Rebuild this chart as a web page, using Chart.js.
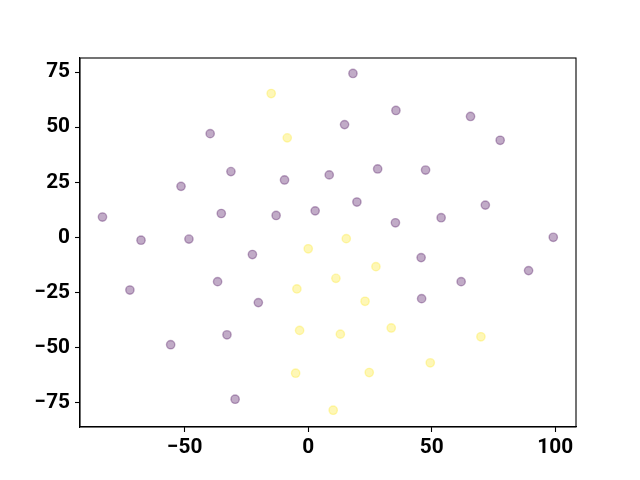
<!DOCTYPE html>
<html>
<head>
<meta charset="utf-8">
<script src="https://cdn.jsdelivr.net/npm/chart.js@4.4.0/dist/chart.umd.min.js"></script>
<style>
  body { margin: 0; background: #fff; }
  canvas { display: block; }
</style>
</head>
<body>
<canvas id="chart1" width="640" height="480"></canvas>
<script>
// ============== Data
const purpleX = [-83.3, -72.2, -67.7, -55.7, -51.5, -48.3, -39.7, -36.7, -35.2, -32.9,
  -31.3, -29.6, -22.6, -20.2, -13.0, -9.6, 2.8, 8.5, 14.7, 18.1,
  19.7, 28.1, 35.5, 35.3, 45.7, 45.9, 47.5, 53.8, 61.9, 65.7,
  71.7, 77.7, 89.2, 99.2];
const purpleY = [9.3, -23.8, -1.2, -48.6, 23.2, -0.7, 47.1, -20.0, 10.9, -44.1,
  29.9, -73.3, -7.7, -29.5, 10.0, 26.1, 12.1, 28.4, 51.2, 74.4,
  16.1, 31.1, 57.6, 6.7, -9.1, -27.7, 30.6, 9.0, -20.0, 54.9,
  14.7, 44.1, -15.0, 0.1];

const yellowX = [-15.0, -8.5, 0.0, 15.4, 11.2, 27.4, 23.0, -4.6, -3.5, 13.0,
  33.6, -5.1, 24.7, 49.4, 69.9, 10.1];
const yellowY = [65.3, 45.2, -5.1, -0.5, -18.5, -13.2, -28.9, -23.3, -42.1, -43.8,
  -41.0, -61.5, -61.2, -56.8, -45.0, -78.3];

const xTicks = [-50, 0, 50, 100];
const yTicks = [-75, -50, -25, 0, 25, 50, 75];

const toPoints = (xs, ys) => xs.map((x, i) => ({ x: x, y: ys[i] }));

// ============== Chart
const frame = {
  id: 'frame',
  afterDraw(chart) {
    const { ctx, chartArea } = chart;
    ctx.save();
    ctx.strokeStyle = '#000';
    ctx.lineWidth = 1.1;
    ctx.strokeRect(chartArea.left, chartArea.top,
      chartArea.right - chartArea.left, chartArea.bottom - chartArea.top);
    ctx.restore();
  }
};

const tickFont = { family: 'Roboto', size: 20.8, weight: 'bold' };
const minus = (v) => String(v).replace('-', '\u2212');

const createChart1 = () => {
  const ctx = document.getElementById('chart1').getContext('2d');

  const data = {
    datasets: [{
      data: toPoints(purpleX, purpleY),
      backgroundColor: 'rgba(68, 1, 84, 0.33)',
      borderColor: 'rgba(68, 1, 84, 0.33)',
    }, {
      data: toPoints(yellowX, yellowY),
      backgroundColor: 'rgba(253, 231, 37, 0.33)',
      borderColor: 'rgba(253, 231, 37, 0.33)',
    }]
  };

  const config = {
    type: 'scatter',
    data: data,
    options: {
      responsive: false,
      animation: false,
      elements: {
        point: { radius: 4.17, borderWidth: 1.4, hoverRadius: 4.17 }
      },
      layout: {
        padding: { left: 0, right: 64, top: 58, bottom: 0 }
      },
      plugins: {
        legend: { display: false },
        tooltip: { enabled: false }
      },
      scales: {
        x: {
          min: -92.4,
          max: 108.4,
          afterBuildTicks: (scale) => { scale.ticks = xTicks.map(v => ({ value: v })); },
          afterFit: (scale) => { scale.height = 53; },
          grid: { drawOnChartArea: false, drawTicks: true, tickLength: 5, tickColor: '#000', tickWidth: 1.1 },
          border: { display: true, color: '#000', width: 1.1 },
          ticks: { color: '#000', font: tickFont, padding: 3, maxRotation: 0, callback: minus }
        },
        y: {
          min: -85.9,
          max: 81.4,
          afterBuildTicks: (scale) => { scale.ticks = yTicks.map(v => ({ value: v })); },
          afterFit: (scale) => { scale.width = 80; },
          grid: { drawOnChartArea: false, drawTicks: true, tickLength: 5, tickColor: '#000', tickWidth: 1.1 },
          border: { display: true, color: '#000', width: 1.1 },
          ticks: { color: '#000', font: tickFont, padding: 5, callback: minus }
        }
      }
    },
    plugins: [frame]
  };

  const newChart = new Chart(ctx, config);
};

document.fonts.load('bold 20.8px Roboto').then(createChart1, createChart1);
</script>
</body>
</html>
